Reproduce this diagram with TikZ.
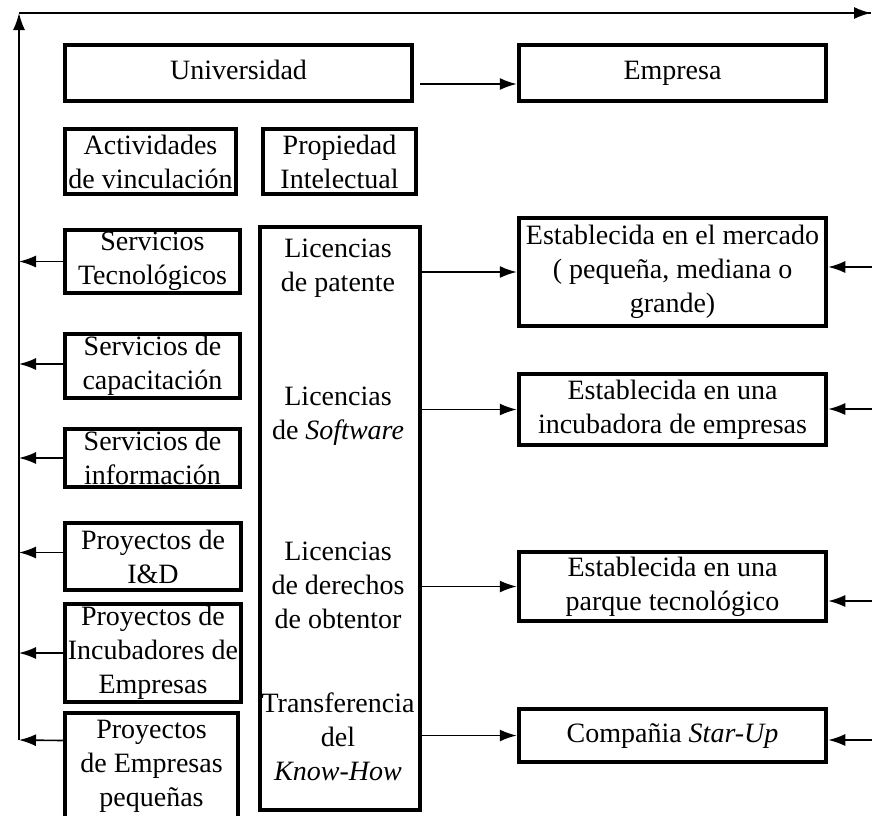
\documentclass[tikz,border=0pt]{standalone}
\usepackage{fontspec}
\setmainfont{Liberation Serif}
\usetikzlibrary{arrows.meta,calc}
\begin{document}
\begin{tikzpicture}[x=1pt,y=-1pt,
  box/.style={draw=black,line width=4.5pt,rectangle,inner sep=0pt,align=center,font=\fontsize{28}{34}\selectfont},
  one/.style={text height=19pt,text depth=6pt},
  txt/.style={inner sep=0pt,align=center,font=\fontsize{28}{34}\selectfont},
  arr/.style={line width=1.6pt,-{Latex[length=17pt,width=12pt]}}]
\useasboundingbox (0,0) rectangle (872,815);
\clip (0,0) rectangle (872,815);
% boxes
\node[box,one,minimum width=347,minimum height=56] (univ) at (238.5,73) {Universidad};
\node[box,one,minimum width=307,minimum height=56] (empresa) at (672.5,73) {Empresa};
\node[box,minimum width=171,minimum height=65] (activ) at (150.5,161.5) {Actividades\\de vinculación};
\node[box,minimum width=153,minimum height=65] (prop) at (339.5,161.5) {Propiedad\\Intelectual};
\node[box,minimum width=175,minimum height=63] (stec) at (152.5,261.5) {Servicios\\Tecnológicos};
\node[box,minimum width=175,minimum height=64] (scap) at (152.5,366) {Servicios de\\capacitación};
\node[box,minimum width=175,minimum height=58] (sinf) at (152.5,458) {Servicios de\\información};
\node[box,minimum width=176,minimum height=67] (pid) at (153,556.5) {Proyectos de\\I\&D};
\node[box,minimum width=176,minimum height=98] (pinc) at (153,653) {Proyectos de\\Incubadores de\\Empresas};
\node[box,minimum width=173,minimum height=107] (pemp) at (151.5,766.5) {Proyectos\\de Empresas\\pequeñas};
\node[box,minimum width=160,minimum height=583] (big) at (340,518.5) {};
\node[txt] (lic1) at (338,268) {Licencias\\de patente};
\node[txt] (lic2) at (338,416) {Licencias\\de \textit{Software}};
\node[txt] (lic3) at (338,585) {Licencias\\de derechos\\de obtentor};
\node[txt] (lic4) at (338,737) {Transferencia\\del\\\textit{Know-How}};
\node[box,minimum width=307,minimum height=108] (merc) at (672.5,272) {Establecida en el mercado\\( pequeña, mediana o\\grande)};
\node[box,minimum width=307,minimum height=71] (incu) at (672.5,409.5) {Establecida en una\\incubadora de empresas};
\node[box,minimum width=307,minimum height=69] (parq) at (672.5,586.5) {Establecida en una\\parque tecnológico};
\node[box,one,minimum width=307,minimum height=53] (comp) at (672.5,735.5) {Compañia \textit{Star-Up}};
% frame arrows
\coordinate (vtop) at (19,13);
\coordinate (vbot) at (19,740);
\coordinate (tl) at (19,13);
\coordinate (tr) at (871,13);
\draw[arr] (vbot) -- (vtop);
\draw[line width=1.6pt] (tl) -- (tr);
\draw[arr] ($(tr)+(-20,0)$) -- (tr);
% university to company
\draw[arr] ($(univ.east)+(6,11)$) -- ($(empresa.west)+(0,11)$);
% left arrows
\draw[arr] (stec.west) -- (stec.west -| vtop);
\draw[arr] ($(scap.west)+(0,-2)$) -- ($(scap.west -| vtop)+(0,-2)$);
\draw[arr] (sinf.west) -- (sinf.west -| vtop);
\draw[arr] ($(pid.west)+(0,-4)$) -- ($(pid.west -| vtop)+(0,-4)$);
\draw[arr] (pinc.west) -- (pinc.west -| vtop);
\draw[arr] ($(pemp.west)+(0,-26)$) -- (vbot);
% middle to right
\draw[arr] (big.east |- merc.west) -- (merc.west);
\draw[arr] (big.east |- incu.west) -- (incu.west);
\draw[arr] (big.east |- parq.west) -- (parq.west);
\draw[arr] (big.east |- comp.west) -- (comp.west);
% right incoming
\coordinate (r1) at (872,267);
\coordinate (r2) at (872,409);
\coordinate (r3) at (872,601);
\coordinate (r4) at (872,740);
\draw[arr] (r1) -- (r1 -| merc.east);
\draw[arr] (r2) -- (r2 -| incu.east);
\draw[arr] (r3) -- (r3 -| parq.east);
\draw[arr] (r4) -- (r4 -| comp.east);
\end{tikzpicture}
\end{document}
